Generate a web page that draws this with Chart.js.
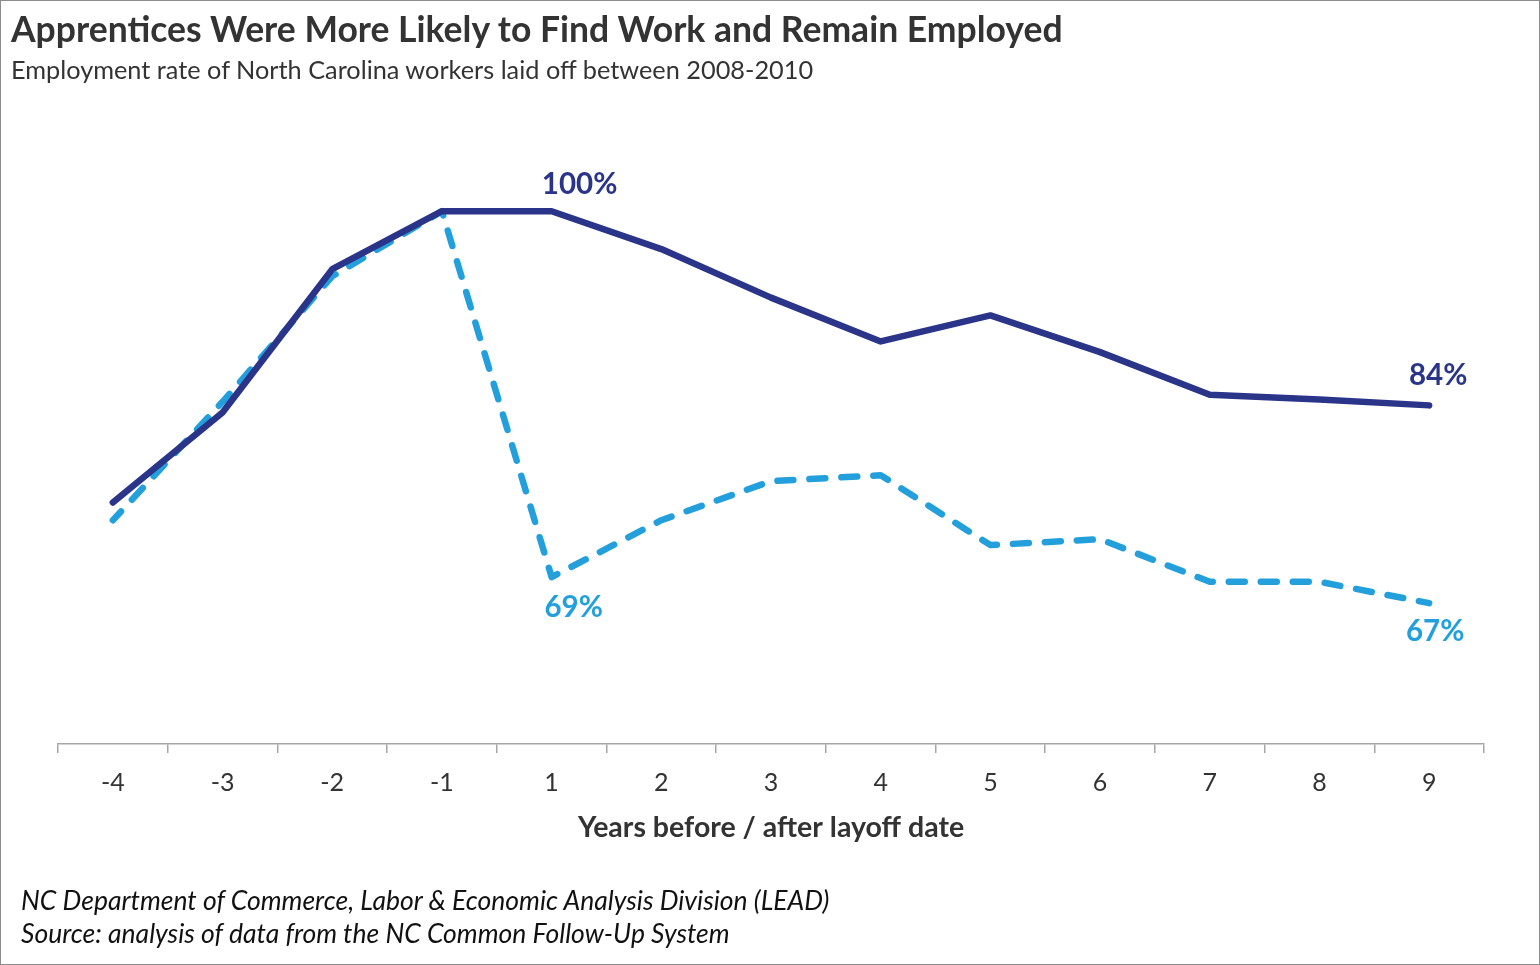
<!DOCTYPE html>
<html>
<head>
<meta charset="utf-8">
<title>Apprentices employment rate</title>
<script src="https://cdn.jsdelivr.net/npm/chart.js@4.4.1/dist/chart.umd.min.js"></script>
<style>
  html, body { margin: 0; padding: 0; background: #fff; }
  #frame {
    position: relative; width: 1540px; height: 965px;
    box-sizing: border-box; border: 1px solid #8c8c8c; overflow: hidden;
    font-family: Lato, "Open Sans", sans-serif; color: #333;
  }
  #title { position: absolute; left: 10px; top: 8px; font-size: 35.5px; font-weight: 700; line-height: 40px; }
  #subtitle { position: absolute; left: 10px; top: 53px; font-size: 25.3px; line-height: 30px; }
  .foot { position: absolute; left: 20px; font-size: 26.5px; font-style: italic; color: #111; line-height: 30px; }
  #chartBox { position: absolute; left: 0; top: 0; width: 1540px; height: 965px; }
</style>
</head>
<body>
<div id="frame">
  <div id="chartBox"><canvas id="employChart"></canvas></div>
  <div id="title">Apprentices Were More Likely to Find Work and Remain Employed</div>
  <div id="subtitle">Employment rate of North Carolina workers laid off between 2008-2010</div>
  <div class="foot" style="top:884px">NC Department of Commerce, Labor &amp; Economic Analysis Division (LEAD)</div>
  <div class="foot" style="top:917px">Source: analysis of data from the NC Common Follow-Up System</div>
</div>
<script>
// ข้อมูลกราฟ
const years = ['-4', '-3', '-2', '-1', '1', '2', '3', '4', '5', '6', '7', '8', '9'];
const apprentices = [75.4, 83.0, 95.1, 100, 100, 96.8, 92.7, 89.0, 91.2, 88.1, 84.5, 84.1, 83.6];
const nonApprentices = [73.9, 83.9, 94.5, 100, 69.1, 73.9, 77.2, 77.7, 71.8, 72.3, 68.7, 68.7, 66.9];
const axisTitle = 'Years before / after layoff date';

const navy = '#2a3589';
const lightBlue = '#23a0dc';
const axisGray = '#a6a6a6';

// ป้ายค่า % ที่จุดสำคัญ: [dataset, index, dx, dy]
const valueLabels = [
    [0, 4, 28, -27],
    [0, 12, 9, -30],
    [1, 4, 22, 30],
    [1, 12, 6, 28]
];

const labelPlugin = {
    id: 'valueLabels',
    afterDatasetsDraw(chart) {
        const ctx = chart.ctx;
        ctx.save();
        ctx.font = 'bold 29.5px Lato, "Open Sans", sans-serif';
        ctx.textAlign = 'center';
        ctx.textBaseline = 'middle';
        valueLabels.forEach(([ds, i, dx, dy]) => {
            const pt = chart.getDatasetMeta(ds).data[i];
            const v = chart.data.datasets[ds].data[i];
            ctx.fillStyle = chart.data.datasets[ds].borderColor;
            ctx.fillText(Math.round(v) + '%', pt.x + dx, pt.y + dy);
        });
        ctx.restore();
    }
};

new Chart(document.getElementById('employChart'), {
    type: 'line',
    data: {
        labels: years,
        datasets: [
            {
                label: 'Apprentices',
                data: apprentices,
                borderColor: navy,
                borderWidth: 6.5,
                borderJoinStyle: 'round',
                borderCapStyle: 'round',
                pointRadius: 0,
                tension: 0
            },
            {
                label: 'Non-apprentices',
                data: nonApprentices,
                borderColor: lightBlue,
                borderWidth: 6.5,
                borderDash: [16, 16],
                borderDashOffset: 4,
                borderJoinStyle: 'round',
                borderCapStyle: 'round',
                pointRadius: 0,
                tension: 0
            }
        ]
    },
    options: {
        responsive: true,
        maintainAspectRatio: false,
        animation: false,
        layout: { padding: { left: 57, right: 57, top: 151, bottom: 0 } },
        plugins: {
            legend: { display: false },
            tooltip: { enabled: false }
        },
        scales: {
            y: { display: false, min: 55, max: 105 },
            x: {
                offset: true,
                // ล็อกความสูงแกน X ให้เส้นแกนอยู่ตำแหน่งเดิมเสมอ
                afterFit(scale) { scale.height = 222; },
                grid: {
                    offset: true,
                    drawOnChartArea: false,
                    drawTicks: true,
                    tickLength: 9,
                    color: axisGray,
                    lineWidth: 1.5
                },
                border: { display: true, color: axisGray, width: 1.5 },
                ticks: {
                    color: '#333',
                    padding: 15,
                    font: { family: 'Lato, "Open Sans", sans-serif', size: 25 }
                },
                title: {
                    display: true,
                    text: axisTitle,
                    color: '#333',
                    padding: { top: 0, bottom: 123 },
                    font: { family: 'Lato, "Open Sans", sans-serif', size: 28.5, weight: 'bold', lineHeight: 1.1 }
                }
            }
        }
    },
    plugins: [labelPlugin]
});
</script>
</body>
</html>
